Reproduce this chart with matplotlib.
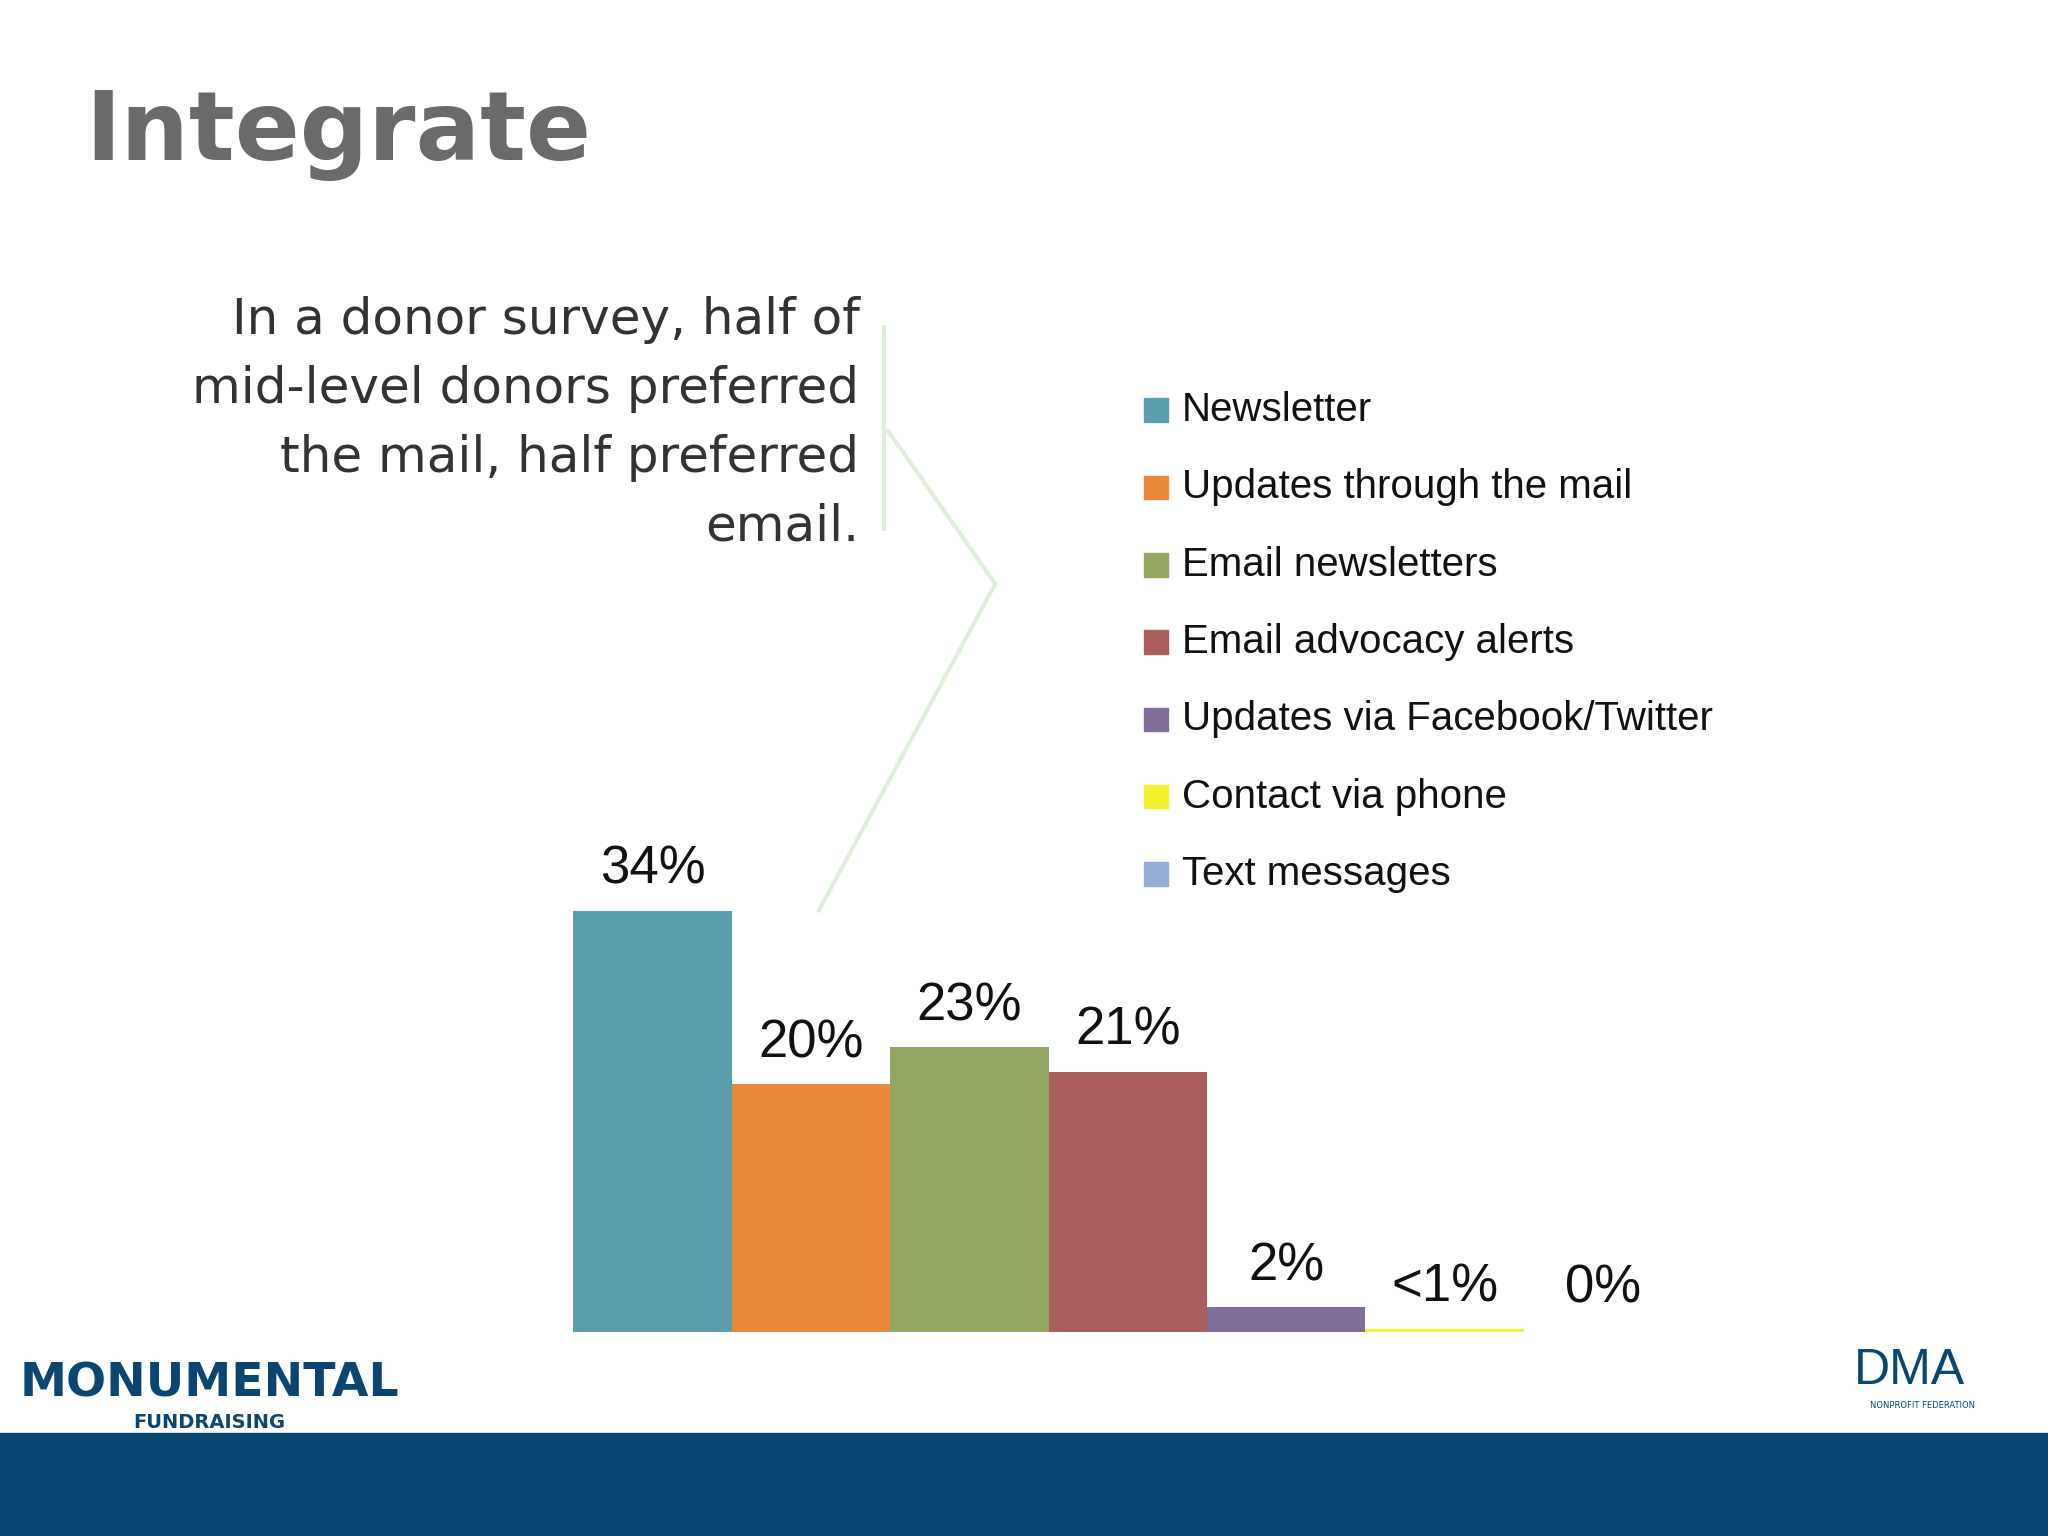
import matplotlib
matplotlib.use("Agg")
import matplotlib.pyplot as plt
from matplotlib.patches import Rectangle
from matplotlib.lines import Line2D

categories = ["Newsletter", "Updates through the mail", "Email newsletters",
              "Email advocacy alerts", "Updates via Facebook/Twitter",
              "Contact via phone", "Text messages"]
values = [34, 20, 23, 21, 2, 0.3, 0]
value_labels = ["34%", "20%", "23%", "21%", "2%", "<1%", "0%"]
colors = ["#5B9EB0", "#E8893A", "#93A662", "#AA5D5B", "#7E6E99", "#F6F230", "#94AED6"]

W, H = 1568, 1176
fig = plt.figure(figsize=(20.48, 15.36), dpi=100)
fig.patch.set_facecolor("white")

def fx(x): return x / W
def fy(y): return 1 - y / H

fig.patches.append(Rectangle((0, 0), 1, fy(1097), transform=fig.transFigure,
                             color="#0B4672", zorder=0))

fig.text(fx(65), fy(103), "Integrate", fontsize=69, fontweight="bold",
         color="#6A6A6A", va="center", ha="left", family="DejaVu Sans")

lines = ["In a donor survey, half of", "mid-level donors preferred",
         "the mail, half preferred", "email."]
for i, t in enumerate(lines):
    fig.text(fx(658), fy(245 + 52.7 * i), t, fontsize=36, color="#333333",
             ha="right", va="center", family="DejaVu Sans")

gc = "#DDEFD9"
fig.add_artist(Line2D([fx(677), fx(677)], [fy(250), fy(405)], transform=fig.transFigure, color=gc, lw=3))
fig.add_artist(Line2D([fx(680), fx(762), fx(627)], [fy(330), fy(447), fy(697)],
                      transform=fig.transFigure, color=gc, lw=3))

ax = fig.add_axes([fx(439), fy(1020), fx(1288) - fx(439), 0.323])
x = range(len(values))
ax.bar(x, values, width=1.0, color=colors, align="edge")
ax.set_xlim(0, 7)
ax.set_ylim(0, 40)
ax.axis("off")
offs = [3.3, 3.3, 3.3, 3.3, 3.3, 3.3, 3.5]
for i, (v, l) in enumerate(zip(values, value_labels)):
    ax.text(i + 0.5, v + offs[i], l, ha="center", va="center", fontsize=38,
            color="#111111", family="Liberation Sans")

for i, (c, lab) in enumerate(zip(colors, categories)):
    y = 314 + 59.2 * i
    fig.patches.append(Rectangle((fx(876), fy(y + 9)), fx(18), 18 / H,
                                 transform=fig.transFigure, color=c))
    fig.text(fx(905), fy(y), lab, fontsize=29, color="#111111", va="center",
             ha="left", family="Liberation Sans")

fig.text(fx(160), fy(1060), "MONUMENTAL", fontsize=34, fontweight="bold",
         color="#0B4672", ha="center", va="center", family="DejaVu Sans")
fig.text(fx(160), fy(1089), "FUNDRAISING", fontsize=14, fontweight="bold",
         color="#0B4672", ha="center", va="center")
fig.text(fx(1462), fy(1050), "DMA", fontsize=36, color="#0B4672",
         ha="center", va="center", family="Liberation Sans")
fig.text(fx(1472), fy(1076), "NONPROFIT FEDERATION", fontsize=6, color="#0B4672",
         ha="center", va="center")

fig.savefig("out.png", dpi=100)
